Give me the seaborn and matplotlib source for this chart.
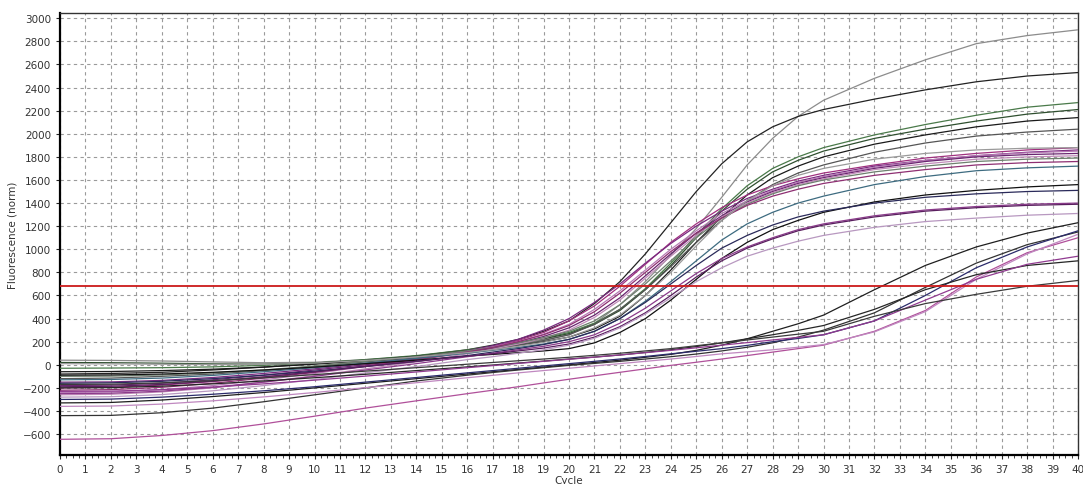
import numpy as np
import pandas as pd
import matplotlib
matplotlib.use("Agg")
import matplotlib.pyplot as plt
from matplotlib.ticker import MultipleLocator
import seaborn as sns

# amplification curves: every 2 cycles on the flat parts, every cycle on the rise
cycles = [0, 2, 4, 6, 8, 10, 12, 14,
          16, 17, 18, 19, 20, 21, 22, 23, 24, 25, 26, 27, 28, 29, 30,
          32, 34, 36, 38, 40]

# early group (Ct ~ 21.5-25)
a01 = [40, 38, 33, 25, 18, 22, 45, 75,
       120, 145, 180, 215, 260, 360, 520, 720, 950, 1180, 1450, 1730, 1960, 2150, 2290,
       2480, 2640, 2780, 2850, 2900]
a02 = [-80, -75, -65, -45, -20, 10, 40, 75,
       130, 170, 220, 290, 380, 530, 720, 960, 1230, 1500, 1740, 1930, 2060, 2150, 2210,
       2300, 2380, 2450, 2500, 2530]
a03 = [-30, -28, -25, -18, -5, 15, 45, 80,
       130, 160, 190, 230, 280, 360, 480, 660, 880, 1120, 1350, 1550, 1700, 1800, 1880,
       1990, 2080, 2160, 2230, 2270]
a04 = [20, 18, 14, 8, 5, 15, 40, 75,
       125, 155, 190, 225, 270, 350, 470, 650, 860, 1100, 1330, 1520, 1670, 1770, 1850,
       1960, 2040, 2110, 2170, 2210]
a05 = [-60, -58, -50, -38, -20, 5, 35, 70,
       115, 140, 170, 200, 240, 310, 420, 600, 820, 1060, 1280, 1470, 1620, 1720, 1800,
       1910, 1990, 2060, 2110, 2140]
a06 = [-120, -115, -100, -80, -50, -15, 25, 60,
       110, 140, 170, 210, 260, 350, 480, 650, 850, 1060, 1250, 1420, 1560, 1660, 1730,
       1840, 1920, 1980, 2015, 2040]
a07 = [-200, -195, -175, -145, -105, -60, -10, 40,
       110, 155, 210, 280, 380, 510, 680, 870, 1060, 1220, 1360, 1470, 1550, 1610, 1660,
       1730, 1790, 1830, 1860, 1880]
a08 = [-150, -148, -135, -110, -75, -35, 10, 55,
       120, 165, 220, 300, 400, 540, 700, 880, 1050, 1200, 1330, 1440, 1520, 1590, 1640,
       1720, 1770, 1810, 1840, 1860]
a09 = [-240, -235, -215, -180, -130, -75, -15, 45,
       115, 155, 200, 265, 350, 480, 640, 820, 1000, 1160, 1310, 1420, 1510, 1580, 1630,
       1710, 1770, 1810, 1835, 1850]
a10 = [-180, -176, -160, -130, -90, -45, 0, 50,
       110, 145, 190, 245, 320, 430, 580, 770, 960, 1140, 1290, 1410, 1500, 1570, 1620,
       1700, 1760, 1800, 1820, 1830]
a11 = [-260, -255, -235, -200, -150, -95, -35, 25,
       95, 135, 180, 230, 300, 410, 560, 750, 940, 1120, 1280, 1400, 1490, 1560, 1610,
       1690, 1740, 1780, 1800, 1810]
a12 = [-100, -98, -88, -70, -45, -10, 30, 70,
       120, 150, 190, 235, 290, 380, 520, 700, 900, 1100, 1270, 1390, 1480, 1550, 1600,
       1670, 1720, 1760, 1780, 1790]
a13 = [-220, -215, -195, -160, -115, -65, -10, 45,
       110, 150, 200, 260, 340, 460, 620, 800, 980, 1140, 1270, 1380, 1460, 1520, 1570,
       1640, 1690, 1730, 1750, 1760]
a14 = [-130, -127, -115, -92, -60, -25, 15, 55,
       100, 125, 150, 180, 220, 290, 400, 550, 720, 900, 1080, 1220, 1320, 1400, 1460,
       1560, 1630, 1680, 1705, 1720]
a15 = [-90, -88, -80, -65, -45, -20, 10, 40,
       75, 90, 105, 120, 140, 190, 280, 400, 560, 740, 920, 1060, 1170, 1250, 1320,
       1410, 1470, 1510, 1540, 1560]
a16 = [-160, -156, -143, -120, -90, -55, -15, 30,
       80, 110, 140, 175, 220, 290, 400, 540, 700, 860, 1010, 1120, 1210, 1280, 1330,
       1400, 1450, 1480, 1500, 1510]
a17 = [-250, -246, -228, -195, -150, -100, -45, 10,
       70, 100, 130, 160, 200, 260, 360, 490, 640, 790, 920, 1020, 1100, 1170, 1220,
       1290, 1340, 1370, 1390, 1400]
a18 = [-190, -186, -170, -142, -105, -62, -15, 30,
       75, 95, 120, 145, 180, 240, 330, 450, 600, 760, 900, 1010, 1090, 1160, 1210,
       1280, 1330, 1360, 1380, 1390]
a19 = [-280, -276, -258, -225, -180, -128, -70, -15,
       45, 70, 100, 130, 170, 230, 320, 440, 580, 720, 840, 940, 1010, 1070, 1120,
       1190, 1240, 1270, 1295, 1310]
a20 = [10, 8, 5, 2, 3, 15, 38, 68,
       105, 130, 160, 195, 240, 320, 430, 600, 800, 1030, 1250, 1420, 1550, 1640, 1700,
       1780, 1830, 1860, 1875, 1880]

# late group (Ct ~ 32-38)
b01 = [-330, -326, -305, -275, -240, -200, -160, -120,
       -80, -60, -40, -20, 0, 20, 40, 65, 90, 125, 170, 225, 290, 355, 430,
       650, 860, 1020, 1140, 1230]
b02 = [-440, -438, -415, -375, -320, -260, -200, -140,
       -90, -67, -45, -25, -5, 12, 30, 50, 70, 93, 120, 152, 190, 240, 300,
       450, 670, 880, 1040, 1150]
b03 = [-300, -297, -280, -255, -225, -190, -150, -110,
       -70, -50, -30, -10, 10, 30, 50, 72, 95, 117, 140, 168, 200, 228, 260,
       380, 600, 840, 1020, 1160]
b04 = [-645, -640, -612, -570, -512, -445, -375, -312,
       -250, -220, -190, -157, -125, -95, -65, -35, -5, 22, 50, 80, 110, 140, 170,
       290, 470, 760, 970, 1100]
b05 = [-360, -357, -340, -312, -278, -240, -198, -155,
       -112, -91, -70, -50, -30, -10, 10, 30, 50, 72, 95, 112, 130, 152, 175,
       285, 460, 740, 960, 1130]
b06 = [-200, -198, -185, -165, -140, -112, -82, -50,
       -18, -2, 15, 32, 50, 67, 85, 107, 130, 158, 190, 225, 260, 298, 340,
       480, 650, 780, 860, 900]
b07 = [-230, -228, -215, -193, -165, -133, -98, -62,
       -25, -7, 12, 30, 48, 66, 85, 105, 125, 147, 170, 192, 215, 237, 260,
       380, 560, 740, 870, 940]
b08 = [-170, -168, -156, -137, -113, -85, -55, -25,
       5, 20, 35, 50, 65, 82, 100, 120, 140, 165, 190, 215, 240, 265, 290,
       420, 530, 610, 680, 730]

threshold = 680

wells = {
    "A01": a01, "A02": a02, "A03": a03, "A04": a04, "A05": a05,
    "A06": a06, "A07": a07, "A08": a08, "A09": a09, "A10": a10,
    "A11": a11, "A12": a12, "A13": a13, "A14": a14, "A15": a15,
    "A16": a16, "A17": a17, "A18": a18, "A19": a19, "A20": a20,
    "B01": b01, "B02": b02, "B03": b03, "B04": b04,
    "B05": b05, "B06": b06, "B07": b07, "B08": b08,
}

line_colors = [
    "#8c8c8c", "#222222", "#4a7a4a", "#2f4f2f", "#1a1a1a",
    "#555555", "#a0307f", "#7a2a80", "#b77ab5", "#6a2570",
    "#c08ab8", "#6e7f6e", "#8e2f72", "#3d6b80", "#111111",
    "#2a2a5a", "#8b3a8b", "#5a1f5f", "#b898c0", "#9a9a9a",
    "#1f1f1f", "#333333", "#2b2b6b", "#b0509a",
    "#c088c0", "#262626", "#903a90", "#3a3a3a",
]

rows = []
for name, vals in wells.items():
    for c, v in zip(cycles, vals):
        rows.append((name, c, v))
df = pd.DataFrame(rows, columns=["well", "cycle", "fluor"])

sns.set_style("white")
plt.rcParams["font.family"] = ["DejaVu Sans"]

fig = plt.figure(figsize=(10.83, 4.85), dpi=100)
ax = fig.add_axes([0.0554, 0.06, 0.94, 0.911])

sns.lineplot(data=df, x="cycle", y="fluor", hue="well", palette=line_colors,
             estimator=None, legend=False, linewidth=0.9, ax=ax, zorder=3)

ax.axhline(threshold, color="#cc1a1a", linewidth=1.3, zorder=4)

ax.set_xlim(0, 40)
ax.set_ylim(-780, 3045)
ax.xaxis.set_major_locator(MultipleLocator(1))
ax.xaxis.set_minor_locator(MultipleLocator(0.25))
ax.set_yticks(np.arange(-600, 3001, 200))

ax.grid(True, which="major", color="#9a9a9a", linestyle=(0, (3, 3)), linewidth=0.8)
ax.set_axisbelow(True)

for side in ["left", "bottom"]:
    ax.spines[side].set_linewidth(1.6)
    ax.spines[side].set_color("black")
for side in ["top", "right"]:
    ax.spines[side].set_linewidth(1.0)
    ax.spines[side].set_color("#333333")

ax.tick_params(axis="both", which="major", labelsize=7.5, labelcolor="#333333",
               length=3, width=0.8, direction="out", bottom=True, left=True)
ax.tick_params(axis="x", which="minor", length=2, width=0.6, bottom=True)

ax.set_xlabel("Cycle", fontsize=7.5, color="#333333", labelpad=1)
ax.set_ylabel("Fluorescence (norm)", fontsize=7.5, color="#333333", labelpad=4)

fig.savefig("out.png", dpi=100)
